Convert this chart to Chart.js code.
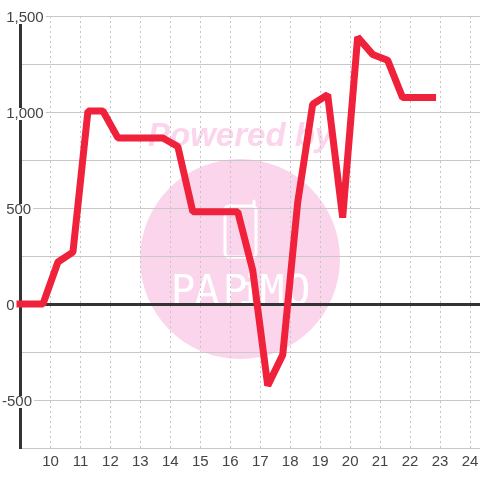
<!DOCTYPE html>
<html>
<head>
<meta charset="utf-8">
<script src="https://cdn.jsdelivr.net/npm/chart.js@4"></script>
<style>
  html, body { margin: 0; padding: 0; background: #fff; }
  canvas { display: block; }
</style>
</head>
<body>
<canvas id="chart" width="480" height="480"></canvas>
<script>
const hours = [8.75, 9.25, 9.75, 10.25, 10.75, 11.25, 11.75, 12.25, 12.75, 13.25, 13.75, 14.25, 14.75, 15.25, 15.75, 16.25, 16.75, 17.25, 17.75, 18.25, 18.75, 19.25, 19.75, 20.25, 20.75, 21.25, 21.75, 22.25, 22.75];
const values = [0, 0, 0, 219, 270, 1005, 1005, 865, 865, 865, 865, 820, 480, 480, 480, 480, 175, -425, -265, 530, 1040, 1090, 450, 1390, 1300, 1270, 1075, 1075, 1075];
const xTicks = [10, 11, 12, 13, 14, 15, 16, 17, 18, 19, 20, 21, 22, 23, 24];
const yTicks = [-750, -500, -250, 0, 250, 500, 750, 1000, 1250, 1500];
const yLabels = { '-500': '-500', '0': ' 0', '500': ' 500', '1000': ' 1,000', '1500': ' 1,500' };

const PINK = '#fbd5ec';
const logoLetters = ['P', 'A', 'P', 'i', 'M', 'O'];
const logoCenters = [183, 207, 235, 250, 272, 298];

// watermark sits under the grid
const watermark = {
  id: 'watermark',
  beforeDraw(chart) {
    const ctx = chart.ctx;
    ctx.save();
    ctx.fillStyle = '#fff';
    ctx.fillRect(0, 0, 480, 480);

    ctx.fillStyle = PINK;
    ctx.beginPath();
    ctx.arc(240, 259, 100, 0, Math.PI * 2);
    ctx.fill();

    ctx.font = 'italic bold 33px "Liberation Sans"';
    ctx.textAlign = 'left';
    ctx.textBaseline = 'alphabetic';
    ctx.fillText('Powered by', 148, 146);

    // logo: rounded box with a tab
    ctx.strokeStyle = '#fff';
    ctx.lineWidth = 3;
    ctx.lineJoin = 'round';
    ctx.lineCap = 'round';
    ctx.beginPath();
    ctx.roundRect(225, 206, 31, 51, 4);
    ctx.moveTo(245, 206);
    ctx.lineTo(254, 206);
    ctx.lineTo(254, 201);
    ctx.stroke();

    ctx.fillStyle = '#fff';
    ctx.font = '41px "DejaVu Sans Mono"';
    ctx.textAlign = 'center';
    logoLetters.forEach((l, i) => ctx.fillText(l, logoCenters[i], 304));
    ctx.restore();
  }
};

new Chart(document.getElementById('chart'), {
  type: 'line',
  plugins: [watermark],
  data: {
    datasets: [{
      data: hours.map((h, i) => ({ x: h, y: values[i] })),
      borderColor: '#f0213a',
      borderWidth: 7,
      borderCapStyle: 'square',
      borderJoinStyle: 'bevel',
      pointRadius: 0,
      tension: 0,
      clip: { left: 20, top: 5, right: 5, bottom: 5 }
    }]
  },
  options: {
    responsive: false,
    animation: false,
    layout: { padding: { left: 0, top: 16, right: 0, bottom: 0 } },
    plugins: { legend: { display: false }, tooltip: { enabled: false } },
    scales: {
      x: {
        type: 'linear',
        min: 9,
        max: 24.333,
        afterBuildTicks: s => { s.ticks = xTicks.map(v => ({ value: v })); },
        afterFit: s => { s.height = 32; s.paddingLeft = 0; s.paddingRight = 0; },
        grid: { color: '#c4c4c4', lineWidth: 1, drawTicks: false },
        border: { display: true, color: '#c8c8c8', width: 1, dash: [2, 3] },
        ticks: {
          autoSkip: false,
          maxRotation: 0,
          padding: 5,
          color: '#444',
          font: { family: '"Liberation Sans"', size: 15 },
          callback: v => String(v)
        }
      },
      y: {
        min: -750,
        max: 1500,
        afterBuildTicks: s => { s.ticks = yTicks.map(v => ({ value: v })); },
        afterFit: s => { s.width = 20.5; s.paddingTop = 0; s.paddingBottom = 0; },
        grid: {
          drawTicks: false,
          color: c => c.tick && c.tick.value === 0 ? '#333' : '#c8c8c8',
          lineWidth: c => c.tick && c.tick.value === 0 ? 3 : 1
        },
        border: { display: true, color: '#333', width: 3 },
        ticks: {
          z: 1,
          autoSkip: false,
          mirror: true,
          padding: -18.5,
          labelOffset: 2,
          color: '#444',
          font: { family: '"Liberation Sans"', size: 15 },
          showLabelBackdrop: true,
          backdropColor: '#fff',
          backdropPadding: { x: 2, y: -3 },
          callback: v => yLabels[v] || ''
        }
      }
    }
  }
});
</script>
</body>
</html>
